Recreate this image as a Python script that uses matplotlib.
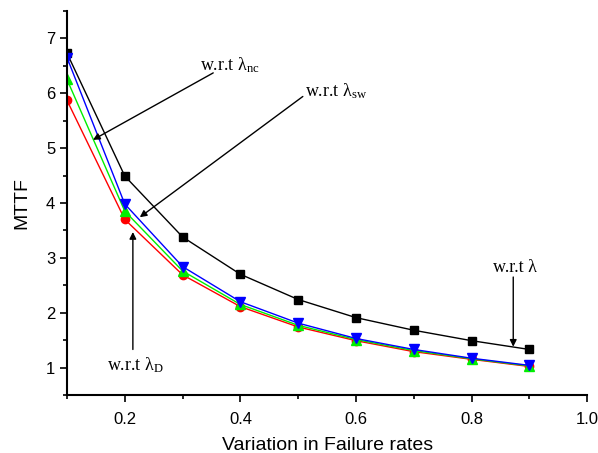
import matplotlib
matplotlib.use("Agg")
import matplotlib.pyplot as plt
from matplotlib.ticker import MultipleLocator

# data
rates = [0.1, 0.2, 0.3, 0.4, 0.5, 0.6, 0.7, 0.8, 0.9]
mttf_lambda = [6.73, 4.49, 3.38, 2.70, 2.24, 1.91, 1.68, 1.49, 1.33]
mttf_lambda_d = [5.87, 3.70, 2.69, 2.11, 1.74, 1.49, 1.29, 1.15, 1.02]
mttf_lambda_nc = [6.25, 3.85, 2.76, 2.15, 1.77, 1.51, 1.31, 1.16, 1.03]
mttf_lambda_sw = [6.65, 3.98, 2.84, 2.20, 1.81, 1.53, 1.33, 1.17, 1.04]

plt.rcParams["font.family"] = ["Liberation Sans", "DejaVu Sans"]
plt.rcParams["mathtext.fontset"] = "custom"
plt.rcParams["mathtext.rm"] = "Liberation Serif"
plt.rcParams["mathtext.it"] = "Liberation Serif"

fig = plt.figure(figsize=(5.98, 4.53), dpi=100)
ax = fig.add_axes([0.112, 0.128, 0.870, 0.848])

ax.plot(rates, mttf_lambda, color="black", lw=1, marker="s", ms=6)
ax.plot(rates, mttf_lambda_d, color="red", lw=1, marker="o", ms=6)
ax.plot(rates, mttf_lambda_nc, color="#00ee00", lw=1, marker="^", ms=6.5)
ax.plot(rates, mttf_lambda_sw, color="blue", lw=1, marker="v", ms=6.5)

ax.set_xlim(0.1, 1.0)
ax.set_ylim(0.5, 7.5)
ax.xaxis.set_minor_locator(MultipleLocator(0.1))
ax.yaxis.set_major_locator(MultipleLocator(1))
ax.yaxis.set_minor_locator(MultipleLocator(0.5))
ax.set_xticks([0.2, 0.4, 0.6, 0.8, 1.0])
ax.set_xticklabels(["0.2", "0.4", "0.6", "0.8", "1.0"])
ax.tick_params(which="major", direction="out", length=5, width=1.2, labelsize=12)
ax.tick_params(axis="x", which="major", pad=7)
ax.tick_params(which="minor", direction="out", length=3, width=1.2)

for side in ("top", "right"):
    ax.spines[side].set_visible(False)
for side in ("left", "bottom"):
    ax.spines[side].set_linewidth(1.5)

ax.set_xlabel("Variation in Failure rates", fontsize=14)
ax.set_ylabel("MTTF", fontsize=14)
ax.xaxis.set_label_coords(0.5, -0.108)
ax.yaxis.set_label_coords(-0.07, 0.5)

arrow = dict(arrowstyle="-|>", color="black", lw=1, mutation_scale=10, shrinkA=0, shrinkB=0)
serif = dict(fontsize=13, family="Liberation Serif", va="center")

# w.r.t lambda_nc
ax.text(0.330, 6.52, r"w.r.t λ$_{\mathrm{nc}}$", ha="left", **serif)
ax.annotate("", xy=(0.145, 5.15), xytext=(0.353, 6.37), arrowprops=arrow)
# w.r.t lambda_sw
ax.text(0.512, 6.03, r"w.r.t λ$_{\mathrm{sw}}$", ha="left", **serif)
ax.annotate("", xy=(0.226, 3.74), xytext=(0.508, 5.94), arrowprops=arrow)
# w.r.t lambda_D
ax.annotate("", xy=(0.214, 3.47), xytext=(0.214, 1.33), arrowprops=arrow)
ax.text(0.169, 1.04, r"w.r.t λ$_{\mathrm{D}}$", ha="left", **serif)
# w.r.t lambda
ax.annotate("", xy=(0.872, 1.38), xytext=(0.872, 2.65), arrowprops=arrow)
ax.text(0.875, 2.83, "w.r.t λ", ha="center", **serif)

fig.savefig("out.png", dpi=100)
